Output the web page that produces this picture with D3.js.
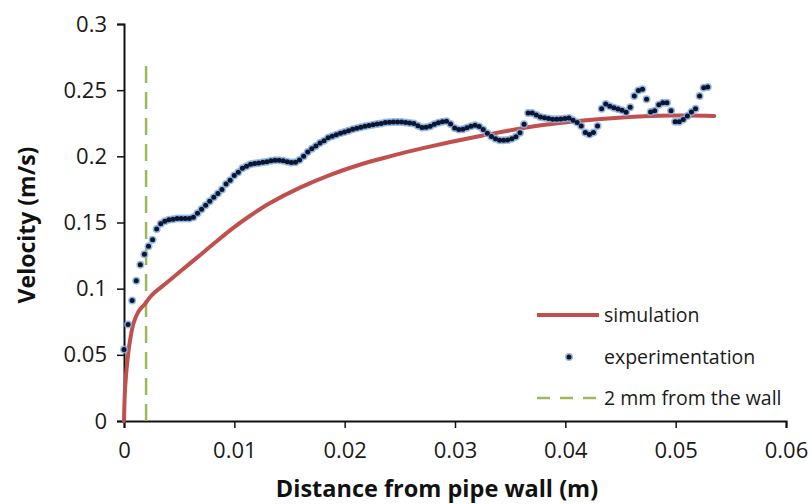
<!DOCTYPE html>
<html><head><meta charset="utf-8">
<script src="https://cdn.jsdelivr.net/npm/d3@7"></script>
<style>body{margin:0;background:#fff}svg{display:block}text{font-family:"Open Sans",sans-serif}.tick text{font-size:22px}</style>
</head><body><svg id="c" width="812" height="504"></svg>
<script>
const xTicks=[0,0.01,0.02,0.03,0.04,0.05,0.06];
const yTicks=[0,0.05,0.1,0.15,0.2,0.25,0.3];
const xTickLabels=["0","0.01","0.02","0.03","0.04","0.05","0.06"];
const yTickLabels=["0","0.05","0.1","0.15","0.2","0.25","0.3"];
const simDistance=[0,0.0001,0.0003,0.00055,0.00085,0.0013,0.0019,0.0025,0.0037,0.0052,0.0067,0.0082,0.0099,0.0115,0.0132,0.016,0.0187,0.0215,0.0241,0.027,0.0324,0.0378,0.0445,0.05,0.0535];
const simVelocity=[0,0.025,0.045,0.061,0.0735,0.0826,0.0885,0.095,0.1033,0.1137,0.124,0.1345,0.146,0.1555,0.1645,0.1765,0.186,0.194,0.2,0.206,0.2155,0.2235,0.229,0.2308,0.2305];
const expDistance=[0,0.00037,0.00074,0.00111,0.00148,0.00185,0.00222,0.00259,0.00296,0.00333,0.0037,0.00407,0.00444,0.00481,0.00518,0.00555,0.00592,0.00629,0.00666,0.00703,0.0074,0.00777,0.00814,0.00851,0.00888,0.00925,0.00962,0.00999,0.01036,0.01073,0.0111,0.01147,0.01184,0.01221,0.01258,0.01295,0.01332,0.01369,0.01406,0.01443,0.0148,0.01517,0.01554,0.01591,0.01628,0.01665,0.01702,0.01739,0.01776,0.01813,0.0185,0.01887,0.01924,0.01961,0.01998,0.02035,0.02072,0.02109,0.02146,0.02183,0.0222,0.02257,0.02294,0.02331,0.02368,0.02405,0.02442,0.02479,0.02516,0.02553,0.0259,0.02627,0.02664,0.02701,0.02738,0.02775,0.02812,0.02849,0.02886,0.02923,0.0296,0.02997,0.03034,0.03071,0.03108,0.03145,0.03182,0.03219,0.03256,0.03293,0.0333,0.03367,0.03404,0.03441,0.03478,0.03515,0.03552,0.03589,0.03626,0.03663,0.037,0.03737,0.03774,0.03811,0.03848,0.03885,0.03922,0.03959,0.03996,0.04033,0.0407,0.04107,0.04144,0.04181,0.04218,0.04255,0.04292,0.04329,0.04366,0.04403,0.0444,0.04477,0.04514,0.04551,0.04588,0.04625,0.04662,0.04699,0.04736,0.04773,0.0481,0.04847,0.04884,0.04921,0.04958,0.04995,0.05032,0.05069,0.05106,0.05143,0.0518,0.05217,0.05254,0.05291];
const expVelocity=[0.054,0.073,0.091,0.106,0.118,0.126,0.132,0.137,0.145,0.149,0.151,0.152,0.1525,0.153,0.153,0.153,0.153,0.154,0.157,0.160,0.163,0.166,0.169,0.172,0.175,0.179,0.182,0.1855,0.188,0.191,0.1925,0.194,0.1946,0.195,0.1955,0.196,0.1967,0.197,0.197,0.1967,0.196,0.1953,0.1955,0.1972,0.200,0.2033,0.2058,0.2078,0.210,0.2118,0.214,0.2152,0.2163,0.2174,0.2183,0.2193,0.2204,0.2213,0.222,0.2227,0.2233,0.2239,0.2244,0.2249,0.2255,0.2258,0.226,0.226,0.226,0.2255,0.2252,0.2249,0.2232,0.2217,0.222,0.2228,0.2243,0.2253,0.2262,0.2265,0.2244,0.2215,0.2202,0.2205,0.2216,0.2228,0.2234,0.2226,0.2202,0.2175,0.215,0.2132,0.2122,0.2121,0.2123,0.2132,0.2148,0.2178,0.2242,0.2327,0.2328,0.2312,0.2297,0.2292,0.2285,0.228,0.228,0.2283,0.2286,0.229,0.2273,0.2255,0.223,0.218,0.2165,0.218,0.223,0.236,0.2395,0.2378,0.2367,0.2357,0.2349,0.2333,0.2371,0.2455,0.2498,0.2506,0.2432,0.2335,0.2345,0.239,0.2405,0.2405,0.2345,0.2262,0.2262,0.2278,0.2305,0.2335,0.236,0.2455,0.2518,0.2523];
const wallMark=[0.002];
const wallMarkTop=[0.27];
const legendLabels=["simulation","experimentation","2 mm from the wall"];

const svg=d3.select("#c");
const x=d3.scaleLinear().domain([0,0.06]).range([124,786]);
const y=d3.scaleLinear().domain([0,0.3]).range([421,24]);

// axes
const gx=svg.append("g").attr("transform","translate(0,421)")
 .call(d3.axisBottom(x).tickValues(xTicks).tickFormat((d,i)=>xTickLabels[i]).tickSizeOuter(0).tickSize(7).tickPadding(14));
const gy=svg.append("g").attr("transform","translate(124,0)")
 .call(d3.axisLeft(y).tickValues(yTicks).tickFormat((d,i)=>yTickLabels[i]).tickSizeOuter(0).tickSize(7).tickPadding(10));
[gx,gy].forEach(g=>{
 g.attr("font-size",22).attr("font-family","Open Sans, sans-serif");
 g.select(".domain").attr("stroke","#111").attr("stroke-width",2);
 g.selectAll(".tick line").attr("stroke","#111").attr("stroke-width",1.5);
 g.selectAll(".tick text").attr("fill","#1a1a1a").attr("font-size",22);
});

// wall line
svg.append("line").attr("x1",x(wallMark[0])).attr("x2",x(wallMark[0]))
 .attr("y1",y(0)).attr("y2",y(wallMarkTop[0]))
 .attr("stroke","#9bbb59").attr("stroke-width",2.5).attr("stroke-dasharray","17,9");

// simulation
const sim=simDistance.map((d,i)=>[d,simVelocity[i]]);
svg.append("path").datum(sim)
 .attr("d",d3.line().x(d=>x(d[0])).y(d=>y(d[1])).curve(d3.curveCatmullRom.alpha(0.5)))
 .attr("fill","none").attr("stroke","#c0504d").attr("stroke-width",4).attr("stroke-linecap","round");

// experiment dots
const exp=expDistance.map((d,i)=>[d,expVelocity[i]]);
svg.append("g").selectAll("circle").data(exp).join("circle")
 .attr("cx",d=>x(d[0])).attr("cy",d=>y(d[1])).attr("r",4).attr("fill","#86aee0").attr("opacity",0.85);
svg.append("g").selectAll("circle").data(exp).join("circle")
 .attr("cx",d=>x(d[0])).attr("cy",d=>y(d[1])).attr("r",2.5).attr("fill","#0b1530");

// legend
const lg=svg.append("g");
lg.append("line").attr("x1",537).attr("x2",599).attr("y1",315).attr("y2",315).attr("stroke","#c0504d").attr("stroke-width",4);
lg.append("circle").attr("cx",569).attr("cy",357).attr("r",4).attr("fill","#86aee0").attr("opacity",0.85);
lg.append("circle").attr("cx",569).attr("cy",357).attr("r",2.5).attr("fill","#0b1530");
lg.append("line").attr("x1",537).attr("x2",599).attr("y1",398).attr("y2",398).attr("stroke","#9bbb59").attr("stroke-width",2.5).attr("stroke-dasharray","13,10");
[315,357,398].forEach((yy,i)=>{
 lg.append("text").attr("x",604).attr("y",yy).attr("dy","0.35em").attr("fill","#1a1a1a").style("font-size","19.5px").text(legendLabels[i]);
});

// titles
svg.append("text").attr("x",437).attr("y",497).attr("text-anchor","middle").attr("fill","#111")
 .style("font-size","23.5px").style("font-weight","bold").text("Distance from pipe wall (m)");
svg.append("text").attr("transform","translate(35,225) rotate(-90)").attr("text-anchor","middle").attr("fill","#111")
 .style("font-size","23px").style("font-weight","bold").text("Velocity (m/s)");
</script></body></html>
